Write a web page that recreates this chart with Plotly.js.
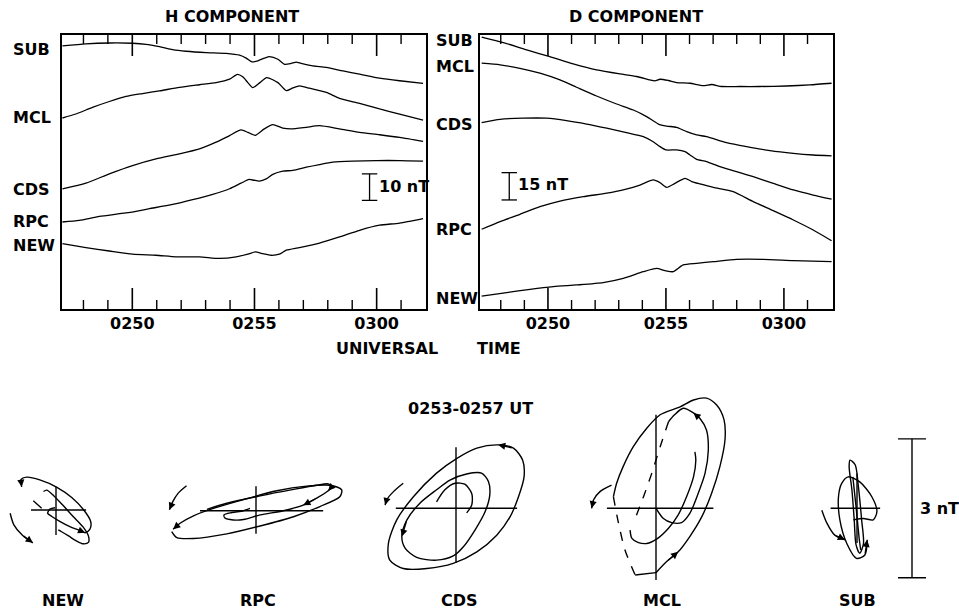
<!DOCTYPE html>
<html><head><meta charset="utf-8">
<script src="https://cdn.plot.ly/plotly-3.0.1.min.js"></script>
<style>html,body{margin:0;padding:0;background:#fff}#chart{width:959px;height:613px}</style>
</head><body><div id="chart"></div>
<script>
// ---------- magnetogram data: time in minutes past 02:00 UT, value in nT (stacked offsets) ----------
const timeTicks = [50, 55, 60];
const timeTickText = ['0250', '0255', '0300'];
const minuteTicks = [48, 49, 50, 51, 52, 53, 54, 55, 56, 57, 58, 59, 60, 61];
const stations = ['SUB', 'MCL', 'CDS', 'RPC', 'NEW'];

const hSUBt = [47.14,48.10,49.06,50.01,50.56,51.11,51.65,52.20,53.02,53.84,54.39,54.66,54.89,55.14,55.41,55.62,55.96,56.23,56.50,56.71,56.91,57.39,57.94,58.62,59.30,60.12,60.94,61.90];
const hSUBv = [98.9,99.7,100.0,99.9,99.5,98.6,97.5,96.9,96.4,96.1,95.4,94.3,92.9,93.3,94.3,94.9,93.9,92.0,92.3,92.8,92.3,91.4,90.8,89.5,88.3,86.8,85.8,84.8];
const hMCLt = [47.14,47.69,48.37,49.06,49.74,50.42,51.11,51.93,52.75,53.43,53.98,54.30,54.52,54.73,54.93,55.22,55.50,55.96,56.30,56.57,56.84,57.25,57.94,58.48,59.30,60.12,60.94,61.90];
const hMCLv = [71.8,73.3,75.8,78.0,79.9,81.0,82.0,83.3,84.3,85.1,86.4,88.2,87.3,85.1,83.2,85.1,87.0,85.1,82.1,83.1,83.9,83.0,81.4,79.2,77.3,75.2,73.3,71.0];
const hCDSt = [47.14,48.10,49.06,50.01,50.97,51.93,52.75,53.43,53.98,54.45,54.73,55.03,55.40,55.75,56.16,56.50,57.12,57.66,58.48,59.30,60.12,60.94,61.90];
const hCDSv = [45.2,47.3,50.8,53.9,56.4,58.3,60.2,62.7,65.2,67.3,66.4,65.3,67.7,69.3,68.0,67.7,68.3,68.9,67.7,66.4,65.5,64.5,63.0];
const hRPCt = [47.14,47.83,48.65,49.74,50.70,51.65,52.47,53.29,53.98,54.45,54.78,54.98,55.20,55.48,55.75,56.16,56.57,57.12,57.66,58.21,59.03,59.99,60.94,61.90];
const hRPCv = [32.7,33.3,34.8,36.1,37.7,39.3,41.1,43.1,45.2,47.3,48.7,48.4,48.1,48.9,50.6,51.8,52.1,53.3,54.3,55.2,55.6,55.8,55.8,55.6];
const hNEWt = [47.14,48.10,49.06,50.01,50.97,51.79,52.75,53.57,54.25,54.73,55.03,55.34,55.68,56.02,56.30,56.84,57.66,58.48,59.30,60.12,60.94,61.90];
const hNEWv = [24.6,23.1,21.8,20.6,20.2,19.6,19.6,19.0,19.6,20.6,21.5,20.8,20.2,20.6,22.1,23.1,24.8,27.1,29.6,31.5,32.3,34.0];

const dSUBt = [47.19,48.11,49.10,50.08,51.07,52.06,53.05,53.76,54.32,54.53,54.75,55.10,55.45,56.02,56.58,56.94,57.36,58.14,58.98,60.11,61.10,62.02];
const dSUBv = [149.3,146.3,142.3,138.6,134.6,131.3,129.1,127.7,125.8,125.3,126.2,125.5,124.4,124.0,122.7,123.3,122.2,122.2,122.2,122.5,123.1,124.0];
const dMCLt = [47.19,47.97,48.81,49.66,50.51,51.21,52.06,52.91,53.62,54.18,54.68,55.03,55.45,55.88,56.30,56.72,57.57,58.42,59.41,60.40,61.24,62.02];
const dMCLv = [135.0,134.1,132.2,129.5,125.8,121.8,117.0,112.6,109.3,105.7,101.6,100.5,99.8,97.4,95.6,94.7,91.4,89.2,87.0,85.5,84.6,84.1];
const dCDSt = [47.19,47.97,48.95,49.94,50.79,51.64,52.49,53.33,54.04,54.46,54.75,55.00,55.45,55.81,56.02,56.30,56.72,57.29,57.99,58.70,59.55,60.40,61.24,62.02];
const dCDSv = [102.4,104.2,104.8,104.8,103.5,101.6,99.3,96.9,94.7,91.9,89.2,87.4,87.4,86.4,84.6,82.2,81.0,78.2,75.5,72.7,69.0,65.4,62.6,60.3];
const dRPCt = [47.19,47.97,48.81,49.66,50.51,51.50,52.49,53.19,53.90,54.46,54.75,55.03,55.38,55.81,56.09,56.44,57.01,57.85,58.70,59.55,60.40,61.24,62.02];
const dRPCv = [43.8,48.0,52.0,56.2,59.3,61.7,63.6,65.4,68.1,70.9,69.4,66.8,69.0,71.8,70.0,68.7,66.8,64.5,59.0,54.0,48.9,43.4,37.5];
const dNEWt = [47.19,48.25,49.24,50.23,51.21,52.34,53.19,54.04,54.60,54.96,55.31,55.73,56.30,57.01,57.99,59.12,60.40,62.02];
const dNEWv = [7.1,9.0,10.8,12.3,13.2,14.5,16.8,20.5,22.3,21.1,20.5,24.2,25.1,26.0,27.3,27.3,26.6,26.0];

// scale bars (nT)
const hScaleBar = {t: 59.71, base: 40.8, len: 10};
const dScaleBar = {t: 48.36, base: 59.9, len: 15};

// ---------- hodograms 0253-0257 UT, [H, D] in nT relative to crosshair ----------
const NEW_a = [[-0.74,0.50],[-0.76,0.65],[-0.63,0.71],[-0.35,0.65],[0.02,0.49],[0.34,0.27],[0.60,0.0],[0.75,-0.25],[0.73,-0.42],[0.63,-0.49],[0.48,-0.43],[0.30,-0.36],[0.09,-0.25],[-0.09,-0.14],[-0.18,-0.07],[-0.13,0.02],[-0.02,0.05]];
const NEW_b = [[-0.27,0.40],[-0.20,0.43],[-0.06,0.32],[0.16,0.09],[0.37,-0.14],[0.58,-0.36],[0.70,-0.56],[0.70,-0.70],[0.59,-0.73],[0.43,-0.66],[0.27,-0.56],[0.12,-0.47],[0.05,-0.43]];
const NEW_c = [[-0.49,0.20],[-0.31,0.04]];
const NEW_arrow = [[-0.99,-0.07],[-0.91,-0.32],[-0.73,-0.54],[-0.50,-0.71]];

const RPC_a = [[-1.82,-0.45],[-1.71,-0.58],[-1.35,-0.60],[-0.63,-0.50],[0.09,-0.33],[0.81,-0.13],[1.38,0.09],[1.81,0.30],[1.85,0.45],[1.60,0.55],[1.09,0.53],[0.45,0.43],[-0.27,0.24],[-0.92,0.05],[-1.35,-0.11],[-1.64,-0.27],[-1.79,-0.40]];
const RPC_b = [[-1.06,0.03],[-0.63,0.16],[0.09,0.32],[0.81,0.46],[1.31,0.55],[1.56,0.58],[1.63,0.51],[1.56,0.43],[1.31,0.27],[1.02,0.12],[0.59,0.0],[0.09,-0.09],[-0.27,-0.19],[-0.49,-0.20],[-0.67,-0.16],[-0.69,-0.09],[-0.52,-0.04],[-0.27,0.0],[-0.13,0.05]];
const RPC_arrow = [[-1.50,0.54],[-1.68,0.38],[-1.80,0.19],[-1.87,0.02]];

const CDS_a = [[0.91,1.37],[1.24,1.30],[1.44,1.04],[1.47,0.68],[1.35,0.25],[1.17,-0.18],[0.88,-0.58],[0.45,-0.94],[-0.06,-1.19],[-0.63,-1.30],[-1.14,-1.30],[-1.43,-1.12],[-1.46,-0.76],[-1.28,-0.25],[-0.92,0.25],[-0.42,0.76],[0.02,1.08],[0.45,1.30],[0.91,1.37]];
const CDS_b = [[-0.42,0.40],[-0.13,0.61],[0.23,0.74],[0.55,0.76],[0.70,0.58],[0.73,0.29],[0.63,-0.07],[0.41,-0.47],[0.16,-0.83],[-0.06,-1.03],[-0.42,-1.12],[-0.85,-1.06],[-1.10,-0.86],[-1.17,-0.61],[-1.06,-0.25],[-0.78,0.11],[-0.42,0.40]];
const CDS_c = [[-0.42,0.14],[-0.24,0.40],[-0.02,0.54],[0.19,0.52],[0.34,0.32],[0.34,0.07],[0.23,-0.10]];
const CDS_arrow = [[-1.14,0.54],[-1.35,0.36],[-1.50,0.18],[-1.53,0.07]];

const MCL_a = [[0.00,-1.39],[0.23,-1.15],[0.48,-0.94],[0.73,-0.61],[0.99,-0.18],[1.20,0.32],[1.38,0.90],[1.49,1.48],[1.47,1.91],[1.31,2.23],[1.09,2.38],[0.81,2.34],[0.52,2.19],[0.09,2.02],[-0.20,1.73],[-0.49,1.33],[-0.71,0.90],[-0.85,0.54],[-0.92,0.25]];
const MCL_aDash = [[-0.92,0.25],[-0.81,-0.32],[-0.67,-0.90],[-0.45,-1.44]];
const MCL_aEnd = [[-0.45,-1.44],[0.00,-1.39]];
const MCL_b = [[0,0],[0.16,-0.22],[0.34,-0.31],[0.55,-0.31],[0.73,-0.11],[0.91,0.32],[1.06,0.76],[1.13,1.26],[1.09,1.69],[0.95,1.94],[0.81,2.06],[0.59,2.16],[0.40,2.02],[0.27,1.87]];
const MCL_bDash = [[0.27,1.87],[0.09,1.33],[-0.09,0.76],[-0.27,0.25],[-0.45,-0.22]];
const MCL_c = [[-0.56,-0.47],[-0.52,-0.65],[-0.38,-0.74],[-0.20,-0.76],[0.02,-0.66],[0.27,-0.43],[0.48,-0.14],[0.66,0.25],[0.81,0.68],[0.86,1.04],[0.84,1.22]];
const MCL_arrow = [[-0.96,0.50],[-1.21,0.36],[-1.35,0.18],[-1.39,0.0]];

const SUB_a = [[-0.15,1.04],[-0.04,0.94],[0.03,0.47],[0.10,-0.25],[0.14,-0.76],[0.06,-0.97],[-0.02,-0.79],[-0.06,-0.25],[-0.11,0.40],[-0.17,0.90],[-0.15,1.04]];
const SUB_b = [[-0.08,-0.25],[0.14,-0.22],[0.35,-0.25],[0.43,-0.07],[0.32,0.25],[0.06,0.57],[-0.19,0.68],[-0.33,0.54],[-0.40,0.25],[-0.37,-0.25],[-0.22,-0.76],[-0.01,-1.08],[0.17,-1.01],[0.22,-0.68]];
const SUB_c = [[-0.09,0.68],[-0.02,0.03],[0.05,-0.68],[0.08,-0.90]];
const SUB_arrow = [[-0.76,-0.04],[-0.65,-0.32],[-0.48,-0.58],[-0.26,-0.68]];

// crosshair extents [hmin, hmax, dmin, dmax] in nT
const crossNEW = [-0.54, 0.65, -0.54, 0.50];
const crossRPC = [-1.21, 1.45, -0.50, 0.53];
const crossCDS = [-1.30, 1.32, -1.18, 1.32];
const crossMCL = [-1.06, 1.24, -1.55, 2.02];
const crossSUB = [-0.57, 0.50, -0.75, 0.75];
const hodScaleNT = 3;

// ---------- layout geometry ----------
const W = 959, Hh = 613;
const S = 46.3; // px per nT in hodograms
const panelTop = 35, panelBottom = 309, panelH = panelBottom - panelTop;
const fontB = {family: 'DejaVu Sans, sans-serif', size: 16, color: '#000', weight: 700};
const px = (x) => x / W, py = (y) => 1 - y / Hh;

const traces = [];
const lineStyle = {color: '#000', width: 1.3, shape: 'spline', smoothing: 0.6};
[[hSUBt,hSUBv],[hMCLt,hMCLv],[hCDSt,hCDSv],[hRPCt,hRPCv],[hNEWt,hNEWv]].forEach(([t,v]) =>
  traces.push({x: t, y: v, xaxis: 'x', yaxis: 'y', mode: 'lines', line: lineStyle, hoverinfo: 'skip'}));
[[dSUBt,dSUBv],[dMCLt,dMCLv],[dCDSt,dCDSv],[dRPCt,dRPCv],[dNEWt,dNEWv]].forEach(([t,v]) =>
  traces.push({x: t, y: v, xaxis: 'x2', yaxis: 'y2', mode: 'lines', line: lineStyle, hoverinfo: 'skip'}));
[[hScaleBar,'x','y'],[dScaleBar,'x2','y2']].forEach(([b,xa,ya]) =>
  traces.push({x: [b.t, b.t], y: [b.base, b.base + b.len], xaxis: xa, yaxis: ya, mode: 'lines+markers',
    line: {color: '#000', width: 1.3}, marker: {symbol: 'line-ew', size: 11, line: {width: 1.3, color: '#000'}}, hoverinfo: 'skip'}));

const hodos = [
  {cx: 56,  cy: 510,   hw: 54, ht: 60, hb: 60, cross: crossNEW,
   curves: [{p: NEW_a, heads: [[0,1],[9,10]]}, {p: NEW_b, heads: []}, {p: NEW_c, heads: []}, {p: NEW_arrow, heads: [[3,2]]}]},
  {cx: 256, cy: 510.7, hw: 100, ht: 45, hb: 45, cross: crossRPC,
   curves: [{p: RPC_a, heads: [[16,15]]}, {p: RPC_b, heads: [[7,6],[9,8]]}, {p: RPC_arrow, heads: [[3,2]]}]},
  {cx: 456, cy: 508.3, hw: 85, ht: 80, hb: 80, cross: crossCDS,
   curves: [{p: CDS_a, heads: [[0,1]]}, {p: CDS_b, heads: [[13,14]]}, {p: CDS_c, heads: []}, {p: CDS_arrow, heads: [[3,2]]}]},
  {cx: 656, cy: 508.3, hw: 85, ht: 118, hb: 85, cross: crossMCL,
   curves: [{p: MCL_a, heads: [[2,1]]}, {p: MCL_aDash, heads: [], dash: 'dash'}, {p: MCL_aEnd, heads: []},
            {p: MCL_b, heads: [[10,9]]}, {p: MCL_bDash, heads: [], dash: 'dash'}, {p: MCL_c, heads: []}, {p: MCL_arrow, heads: [[3,2]]}]},
  {cx: 857, cy: 508.3, hw: 80, ht: 85, hb: 85, cross: crossSUB, scaleBar: true,
   curves: [{p: SUB_a, heads: []}, {p: SUB_b, heads: [[13,12]]}, {p: SUB_c, heads: []}, {p: SUB_arrow, heads: [[3,2]]}]}
];

const layout = {
  width: W, height: Hh, margin: {l: 0, r: 0, t: 0, b: 0},
  paper_bgcolor: '#fff', plot_bgcolor: 'rgba(0,0,0,0)', showlegend: false,
  shapes: [], annotations: []
};

function timeAxis(dom, rng, anchor) {
  return {domain: dom, range: rng, anchor: anchor, showline: true, linewidth: 1.6, linecolor: '#000', mirror: true,
    ticks: '', tickmode: 'array', tickvals: timeTicks, ticktext: timeTickText, ticklabelstandoff: -1,
    tickfont: fontB, showgrid: false, zeroline: false, fixedrange: true};
}
function valAxis(dom, rng, anchor) {
  return {domain: dom, range: rng, anchor: anchor, showline: true, linewidth: 1.6, linecolor: '#000', mirror: true,
    ticks: '', showticklabels: false, showgrid: false, zeroline: false, fixedrange: true};
}
layout.xaxis = timeAxis([px(61.7), px(426)], [47.11, 62.02], 'y');
layout.yaxis = valAxis([py(panelBottom), py(panelTop)], [0, 103], 'x');
layout.xaxis2 = timeAxis([px(480), px(833)], [47.12, 62.08], 'y2');
layout.yaxis2 = valAxis([py(panelBottom), py(panelTop)], [0, 150.5], 'x2');

// inside tick marks, top and bottom, one per minute (long at labelled minutes)
[['x', 'y domain'], ['x2', 'y2 domain']].forEach(([xr, yr]) => {
  minuteTicks.forEach(m => {
    const len = (timeTicks.includes(m) ? 21 : 9) / panelH;
    const w = timeTicks.includes(m) ? 1.6 : 1.4;
    layout.shapes.push({type: 'line', xref: xr, yref: yr, x0: m, x1: m, y0: 0, y1: len, line: {color: '#000', width: w}});
    layout.shapes.push({type: 'line', xref: xr, yref: yr, x0: m, x1: m, y0: 1, y1: 1 - len, line: {color: '#000', width: w}});
  });
});

hodos.forEach((h, i) => {
  const k = i + 3, xa = 'x' + k, ya = 'y' + k;
  layout['xaxis' + k] = {domain: [px(h.cx - h.hw), px(h.cx + h.hw)], range: [-h.hw / S, h.hw / S], anchor: ya, visible: false, fixedrange: true};
  layout['yaxis' + k] = {domain: [py(h.cy + h.hb), py(h.cy - h.ht)], range: [-h.hb / S, h.ht / S], anchor: xa, visible: false, fixedrange: true};
  const c = h.cross;
  layout.shapes.push({type: 'line', xref: xa, yref: ya, x0: c[0], x1: c[1], y0: 0, y1: 0, line: {color: '#000', width: 1.4}});
  layout.shapes.push({type: 'line', xref: xa, yref: ya, x0: 0, x1: 0, y0: c[2], y1: c[3], line: {color: '#000', width: 1.4}});
  h.curves.forEach(cv => {
    traces.push({x: cv.p.map(q => q[0]), y: cv.p.map(q => q[1]), xaxis: xa, yaxis: ya, mode: 'lines',
      line: {color: '#000', width: 1.4, shape: 'spline', smoothing: 0.8, dash: cv.dash || 'solid'}, hoverinfo: 'skip'});
    cv.heads.forEach(([hi, ti]) => layout.annotations.push({
      xref: xa, yref: ya, axref: xa, ayref: ya, x: cv.p[hi][0], y: cv.p[hi][1], ax: cv.p[ti][0], ay: cv.p[ti][1],
      text: '', showarrow: true, arrowhead: 2, arrowsize: 1.1, arrowwidth: 1.3, arrowcolor: '#000', standoff: 0, startstandoff: 0}));
  });
  if (h.scaleBar) {
    const bx = 55 / S;
    traces.push({x: [bx, bx], y: [-hodScaleNT / 2, hodScaleNT / 2], xaxis: xa, yaxis: ya, mode: 'lines+markers',
      line: {color: '#000', width: 1.4}, marker: {symbol: 'line-ew', size: 20, line: {width: 1.4, color: '#000'}}, hoverinfo: 'skip'});
  }
});

function txt(text, x, y, xanchor) {
  layout.annotations.push({text: text, xref: 'paper', yref: 'paper', x: px(x), y: py(y), xanchor: xanchor || 'center', yanchor: 'middle',
    showarrow: false, font: fontB});
}
txt('H COMPONENT', 232, 17);
txt('D COMPONENT', 636, 17);
txt('UNIVERSAL\u00a0\u00a0\u00a0\u00a0\u00a0\u00a0\u00a0TIME', 428, 348);
const hLabelY = [50, 117, 190, 221, 245];
const dLabelY = [40, 66, 124, 229, 298];
stations.forEach((s, i) => { txt(s, 11, hLabelY[i], 'left'); txt(s, 434, dLabelY[i], 'left'); });
txt('10 nT', 377, 186, 'left');
txt('15 nT', 516, 184, 'left');
txt('0253-0257 UT', 470, 408);
const bottomX = [857, 662, 459, 258, 63];
stations.forEach((s, i) => txt(s, bottomX[i], 600));
txt('3 nT', 939, 508);

Plotly.newPlot('chart', traces, layout, {displayModeBar: false, staticPlot: true});
</script>
</body></html>
